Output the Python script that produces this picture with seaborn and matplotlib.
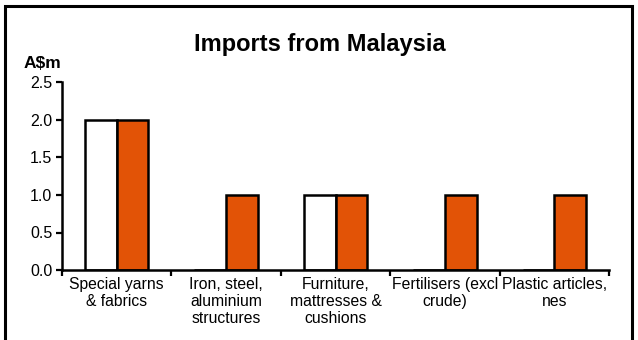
import pandas as pd
import seaborn as sns
import matplotlib.pyplot as plt
from matplotlib.patches import Rectangle

# Values (A$m)
categories = ['Special yarns\n& fabrics', 'Iron, steel,\naluminium\nstructures',
              'Furniture,\nmattresses &\ncushions', 'Fertilisers (excl\ncrude)',
              'Plastic articles,\nnes']
series_names = ['Previous', 'Current']
previous = [2.0, 0.0, 1.0, 0.0, 0.0]
current = [2.0, 1.0, 1.0, 1.0, 1.0]
yticks = [0.0, 0.5, 1.0, 1.5, 2.0, 2.5]

df = pd.DataFrame({
    'category': categories * 2,
    'series': [series_names[0]] * len(categories) + [series_names[1]] * len(categories),
    'value': previous + current,
})

sns.set_style('white')
plt.rcParams['font.family'] = ['Liberation Sans', 'DejaVu Sans']
plt.rcParams['text.color'] = 'black'
plt.rcParams['xtick.color'] = 'black'
plt.rcParams['ytick.color'] = 'black'

fig = plt.figure(figsize=(6.38, 3.40), dpi=100)
ax = fig.add_axes([62 / 638, 1 - 270 / 340, (609 - 62) / 638, (270 - 82.5) / 340])

sns.barplot(data=df, x='category', y='value', hue='series', order=categories,
            palette=['white', '#E25306'], saturation=1, width=0.58, gap=0,
            edgecolor='black', linewidth=1.8, legend=False, ax=ax)

ax.set_xlim(-0.5, len(categories) - 0.5)
ax.set_ylim(0, 2.5)
ax.set_yticks(yticks)
ax.set_yticklabels([f'{t:.1f}' for t in yticks], fontsize=11.5)
ax.set_xticks(range(len(categories)))
ax.set_xticklabels(categories, fontsize=11.3, linespacing=1.15)
ax.tick_params(axis='x', which='major', length=0, pad=5)
ax.set_xticks([i - 0.5 for i in range(len(categories) + 1)], minor=True)
ax.tick_params(axis='x', which='minor', length=4, width=1.6, direction='out', bottom=True)
ax.tick_params(axis='y', length=4, width=1.6, direction='out', left=True, pad=3)
ax.set_xlabel('')
ax.set_ylabel('')
for side in ['top', 'right']:
    ax.spines[side].set_visible(False)
for side in ['left', 'bottom']:
    ax.spines[side].set_color('black')
    ax.spines[side].set_linewidth(1.8)

fig.text(320 / 638, 1 - 44 / 340, 'Imports from Malaysia', ha='center', va='center',
         fontsize=17, fontweight='bold')
fig.text(24 / 638, 1 - 63 / 340, 'A$m', ha='left', va='center', fontsize=12.5, fontweight='bold')

# outer chart frame (bottom edge falls outside the image)
fig.patches.append(Rectangle((5 / 638, -0.05), (632 - 5) / 638, 1.05 - 6 / 340,
                             transform=fig.transFigure, fill=False,
                             edgecolor='black', linewidth=2.2))

fig.savefig('out.png', dpi=100)
